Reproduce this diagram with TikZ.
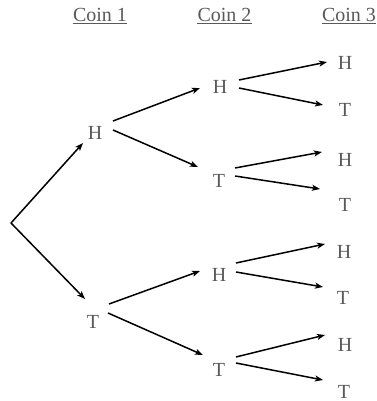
\documentclass[tikz,border=0pt]{standalone}
\usepackage{fontspec}
\setmainfont{Liberation Serif}
\usetikzlibrary{arrows.meta}
\definecolor{txt}{HTML}{595959}
\tikzset{
  lbl/.style={inner sep=0pt, text=txt, font=\fontsize{20}{24}\selectfont},
  arr/.style={line width=1.5pt, draw=black, -{Stealth[length=8pt,width=6pt,inset=2pt]}},
  uline/.style={draw=txt, line width=1pt}
}
\begin{document}
\begin{tikzpicture}[x=1pt,y=-1pt]
\useasboundingbox (0,0) rectangle (376,401);
% headers
\node[lbl] (c1) at (100,15) {Coin 1};
\node[lbl] (c2) at (224.5,15) {Coin 2};
\node[lbl] (c3) at (349,15) {Coin 3};
\foreach \c in {c1,c2,c3}
  \draw[uline] ([yshift=-2pt]\c.base west) -- ([yshift=-2pt]\c.base east);
% root
\coordinate (root) at (11,223);
% level 1
\node[lbl] (H1) at (95,133) {H};
\node[lbl] (T1) at (93,322) {T};
% level 2
\node[lbl] (H2a) at (220,87) {H};
\node[lbl] (T2a) at (219,181) {T};
\node[lbl] (H2b) at (219,275) {H};
\node[lbl] (T2b) at (219,370) {T};
% level 3
\node[lbl] (H3a) at (345,63) {H};
\node[lbl] (T3a) at (345,110) {T};
\node[lbl] (H3b) at (345,160) {H};
\node[lbl] (T3b) at (345,205) {T};
\node[lbl] (H3c) at (344,252) {H};
\node[lbl] (T3c) at (343,298) {T};
\node[lbl] (H3d) at (345,345) {H};
\node[lbl] (T3d) at (344,392) {T};
% edges
\draw[arr] (root) -- ([shift={(-12,10)}]H1.center);
\draw[arr] (root) -- ([shift={(-8,-23)}]T1.center);
\draw[arr] ([shift={(18,-12)}]H1.center) -- ([shift={(-20,1)}]H2a.center);
\draw[arr] ([shift={(18,-3)}]H1.center) -- ([shift={(-21,-14)}]T2a.center);
\draw[arr] ([shift={(16,-18)}]T1.center) -- ([shift={(-19,-4)}]H2b.center);
\draw[arr] ([shift={(15,-9)}]T1.center) -- ([shift={(-16,-15)}]T2b.center);
\draw[arr] ([shift={(19,-7)}]H2a.center) -- ([shift={(-18,-1)}]H3a.center);
\draw[arr] ([shift={(19,1)}]H2a.center) -- ([shift={(-22,-5)}]T3a.center);
\draw[arr] ([shift={(16,-13)}]T2a.center) -- ([shift={(-23,-8)}]H3b.center);
\draw[arr] ([shift={(16,-5)}]T2a.center) -- ([shift={(-25,-16)}]T3b.center);
\draw[arr] ([shift={(17,-12)}]H2b.center) -- ([shift={(-19,-8)}]H3c.center);
\draw[arr] ([shift={(17,-3)}]H2b.center) -- ([shift={(-20,-11)}]T3c.center);
\draw[arr] ([shift={(17,-13)}]T2b.center) -- ([shift={(-20,-10)}]H3d.center);
\draw[arr] ([shift={(17,-7)}]T2b.center) -- ([shift={(-21,-12)}]T3d.center);
\end{tikzpicture}
\end{document}
